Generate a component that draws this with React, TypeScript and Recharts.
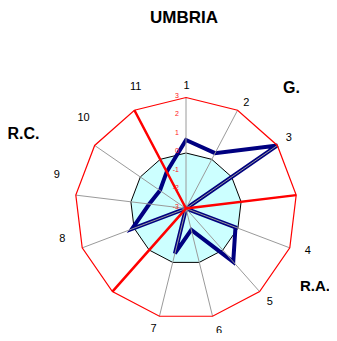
import React from 'react';
import { RadarChart, PolarAngleAxis, PolarRadiusAxis, Radar } from 'recharts';

// 13 spokes: 11 indicators plus two unlabelled dividers between the groups
const categories = ['1', '2', '3', 'div1', '4', '5', '6', '7', 'div2', '8', '9', '10', '11'];
const umbria = [0.7, 0.38, 3.0, -3, -0.14, 0.85, -1.81, -0.5, -3, 0.12, -1.0, -1.29, -0.76];
const outer = [3, 3, 3, 3, 3, 3, 3, 3, 3, 3, 3, 3, 3];
const zero = [0, 0, 0, 0, 0, 0, 0, 0, 0, 0, 0, 0, 0];
const dividers = [-3, -3, -3, 3, -3, -3, -3, -3, 3, -3, -3, -3, 3];
const radiusTicks = [-3, -2, -1, 0, 1, 2, 3];

const data = categories.map((cat, i) => ({
    cat,
    umbria: umbria[i],
    outer: outer[i],
    zero: zero[i],
    dividers: dividers[i]
}));

const font = '"Liberation Sans", Arial, sans-serif';

// nudges for the category labels (the original places them a bit off the spokes)
const tickNudge: Record<string, [number, number]> = {
    '1': [0.5, -5],
    '2': [5, -1.5],
    '3': [5, -4],
    '4': [10.5, -1],
    '5': [5, 3],
    '6': [4.5, 6],
    '7': [-4, 3.5],
    '8': [-12.5, -13],
    '9': [-11, -20.5],
    '10': [-4.5, -24],
    '11': [5, -17.5]
};

const AngleTick = (props: any) => {
    const { x, y, payload } = props;
    const v = String(payload.value);
    if (v.startsWith('div')) return <g />;
    const [dx, dy] = tickNudge[v] || [0, 0];
    return (
        <text x={x + dx} y={y + dy + 4} textAnchor="middle" fill="#000" fontSize={11} fontFamily={font}>
            {v}
        </text>
    );
};

// spokes from the centre to every outer point, drawn above the filled area
const Spokes = (props: any) => (
    <g>
        {props.points.map((p: any, i: number) => (
            <line key={i} x1={p.cx} y1={p.cy} x2={p.x} y2={p.y} stroke="#9a9a9a" strokeWidth={1} />
        ))}
    </g>
);

const label = (text: string, left: number, top: number, size: number) => (
    <div
        style={{
            position: 'absolute',
            left,
            top,
            fontSize: size,
            lineHeight: `${size}px`,
            fontWeight: 'bold',
            color: '#000',
            whiteSpace: 'nowrap'
        }}
    >
        {text}
    </div>
);

export default function App() {
    return (
        <div style={{ position: 'relative', width: 337, height: 341, margin: -8, fontFamily: font, background: '#fff', overflow: 'hidden' }}>
            <RadarChart width={337} height={341} cx={186} cy={208.5} outerRadius={111} data={data}>
                <PolarAngleAxis dataKey="cat" axisLine={false} tickLine={false} tick={AngleTick} />
                <PolarRadiusAxis
                    angle={90}
                    domain={[-3, 3]}
                    ticks={radiusTicks}
                    orientation="left"
                    axisLine={false}
                    tickLine={false}
                    tick={{ fill: '#ff2020', fontSize: 7, fontFamily: font, dx: -7 }}
                />
                <Radar dataKey="zero" stroke="#000" strokeWidth={1} fill="#ccffff" fillOpacity={1} isAnimationActive={false} />
                <Radar dataKey="umbria" stroke="#000080" strokeWidth={4} fill="none" isAnimationActive={false} />
                <Radar dataKey="outer" stroke="none" fill="none" shape={Spokes} isAnimationActive={false} />
                <Radar dataKey="outer" stroke="#ff0000" strokeWidth={1.2} fill="none" isAnimationActive={false} />
                <Radar dataKey="dividers" stroke="#ff0000" strokeWidth={2.5} fill="none" isAnimationActive={false} />
            </RadarChart>
            {label('UMBRIA', 150, 9, 17)}
            {label('G.', 283, 80, 16)}
            {label('R.A.', 300, 278, 15)}
            {label('R.C.', 7.5, 126, 16)}
        </div>
    );
}
